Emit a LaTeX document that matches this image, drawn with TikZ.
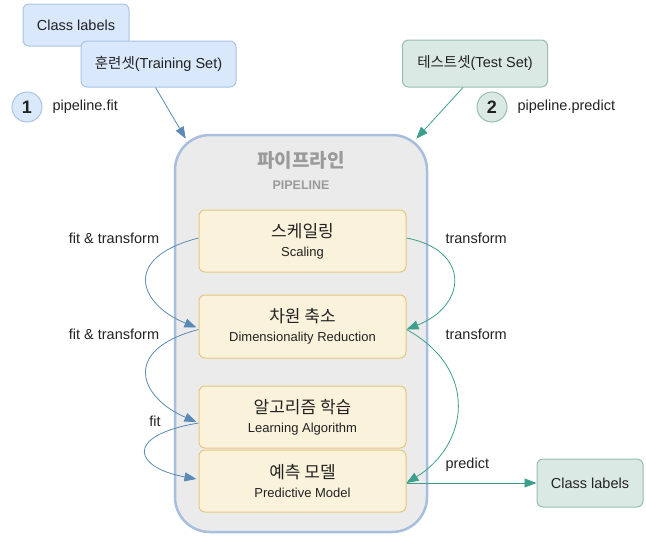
\documentclass[tikz,border=0pt]{standalone}
\usepackage{fontspec}
\setmainfont{Liberation Sans}
\newfontfamily\kr{Noto Sans CJK KR}
\usetikzlibrary{arrows.meta,calc}
\definecolor{bfill}{HTML}{DAE8FC}
\definecolor{bbord}{HTML}{A9C4E4}
\definecolor{gfill}{HTML}{DBE9E4}
\definecolor{gbord}{HTML}{98BFAE}
\definecolor{pfill}{HTML}{EBEBEB}
\definecolor{pbord}{HTML}{A7BFDC}
\definecolor{yfill}{HTML}{FBF2DC}
\definecolor{ybord}{HTML}{E3C97C}
\definecolor{barr}{HTML}{5A8AB5}
\definecolor{garr}{HTML}{3D9E8C}
\definecolor{tgray}{HTML}{9A9A9A}
\definecolor{tdark}{HTML}{222222}
\begin{document}
\begin{tikzpicture}[x=1pt,y=-1pt,
  txt/.style={font=\fontsize{14.5}{17}\selectfont, text=tdark},
  bluebox/.style={draw=bbord, fill=bfill, rounded corners=6pt, line width=1pt, txt, inner sep=0pt},
  greenbox/.style={draw=gbord, fill=gfill, rounded corners=6pt, line width=1pt, txt, inner sep=0pt},
  numcirc/.style={circle, minimum size=30pt, inner sep=0pt, line width=1pt, font=\fontsize{18}{20}\selectfont\bfseries, text=tdark},
  stage/.style={draw=ybord, fill=yfill, rounded corners=6pt, line width=1pt, minimum width=207pt, minimum height=62pt, align=center, inner sep=0pt, text=tdark},
  barrow/.style={draw=barr, line width=0.8pt, -{Triangle[length=12pt,width=9pt]}},
  garrow/.style={draw=garr, line width=0.8pt, -{Triangle[length=12pt,width=9pt]}}
]
\useasboundingbox (0,0) rectangle (646,539);

% pipeline container
\node[draw=pbord, fill=pfill, line width=2.5pt, rounded corners=35pt, minimum width=252pt, minimum height=397pt, inner sep=0pt] (pipe) at (301,333.5) {};
\node[font=\fontsize{19}{21}\selectfont\kr\bfseries, text=tgray] (ptitle) at (301,160) {파이프라인};
\node[font=\fontsize{12.5}{14}\selectfont\bfseries, text=tgray] (psub) at (301,185) {PIPELINE};

% stages
\node[stage] (scale) at (302.5,241) {\fontsize{17}{20}\selectfont\kr 스케일링\\[7pt]\fontsize{13}{16}\selectfont Scaling};
\node[stage, minimum height=63pt] (dim) at (302.5,326.5) {\fontsize{17}{20}\selectfont\kr 차원 축소\\[7pt]\fontsize{13}{16}\selectfont Dimensionality Reduction};
\node[stage] (la) at (302.5,417) {\fontsize{17}{20}\selectfont\kr 알고리즘 학습\\[7pt]\fontsize{13}{16}\selectfont Learning Algorithm};
\node[stage] (pm) at (302.5,481) {\fontsize{17}{20}\selectfont\kr 예측 모델\\[7pt]\fontsize{13}{16}\selectfont Predictive Model};

% inputs
\node[bluebox, minimum width=106pt, minimum height=42pt] (cl1) at (76,25) {Class labels};
\node[bluebox, minimum width=155pt, minimum height=46pt] (train) at (158.5,64) {{\kr 훈련셋}(Training Set)};
\node[greenbox, minimum width=145pt, minimum height=47pt] (test) at (475,63.5) {{\kr 테스트셋}(Test Set)};
\node[greenbox, minimum width=106pt, minimum height=48pt] (cl2) at (590,483) {Class labels};

\node[numcirc, draw=bbord, fill=bfill] (n1) at (27,107) {1};
\node[txt, anchor=west] (fitlbl) at (49,107) {pipeline.fit};
\node[numcirc, draw=gbord, fill=gfill] (n2) at (492,107) {2};
\node[txt, anchor=west] (predlbl) at (514,107) {pipeline.predict};

% input arrows
\coordinate (p1) at ($(pipe.north west)+(12,5)$);
\coordinate (p2) at ($(pipe.north east)+(-12,5)$);
\draw[barrow] ($(train.south)+(-3,0)$) -- (p1);
\draw[garrow] ($(test.south)+(-12,0)$) -- (p2);

% left (fit) curves
\draw[barrow] ($(scale.west)+(0,-3)$) .. controls (120,258) and (140,305) .. ($(dim.west)+(-2,1)$);
\draw[barrow] ($(dim.west)+(0,3)$) .. controls (120,350) and (140,398) .. ($(la.west)+(-2,5)$);
\draw[barrow] ($(la.west)+(0,6)$) .. controls (122,436) and (135,468) .. ($(pm.west)+(-2,-2)$);
\node[txt] (lt1) at (114,238) {fit \& transform};
\node[txt] (lt2) at (114,334) {fit \& transform};
\node[txt] (lt3) at (155,421) {fit};

% right (predict) curves
\draw[garrow] ($(scale.east)+(0,-3)$) .. controls (470,250) and (468,305) .. ($(dim.east)+(0,3)$);
\draw[garrow] ($(dim.east)+(0,3)$) .. controls (480,370) and (468,445) .. ($(pm.east)+(0,2)$);
\draw[garrow] ($(pm.east)+(0,2)$) -- (cl2.west);
\node[txt, anchor=west] (rt1) at (442,238) {transform};
\node[txt, anchor=west] (rt2) at (442,334) {transform};
\node[txt, anchor=west] (rt3) at (442,465) {predict};
\end{tikzpicture}
\end{document}
